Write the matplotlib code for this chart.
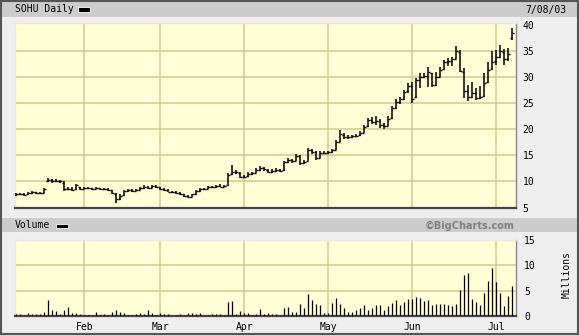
import matplotlib
matplotlib.use("Agg")
import matplotlib.pyplot as plt
from matplotlib.patches import Rectangle
import numpy as np

# ---------------- data (trading-day index 0 = Jan 8 2003 ... 124 = Jul 8 2003)
open_ = [7.4, 7.5, 7.6, 7.5, 7.7, 7.9, 7.7, 7.8, 10.0, 10.2, 10.0, 10.1, 9.8, 8.6, 8.5, 8.5, 8.9,
         8.6, 8.8, 8.7, 8.6, 8.7, 8.5, 8.6, 8.3, 7.6, 6.6, 7.4, 8.2, 8.3, 8.2, 8.4, 8.7, 9.0, 8.8, 9.1,
         8.9, 8.6, 8.3, 8.0, 7.9, 7.8, 7.5, 7.2, 7.1, 7.5, 8.1, 8.5, 8.6, 8.9, 8.9, 9.1, 9.0, 9.3, 11.4, 11.9, 11.6,
         10.9, 11.0, 11.5, 11.7, 12.2, 12.6, 12.2, 11.9, 12.0, 12.2, 12.2, 13.8, 14.1, 14.0, 14.8, 13.5, 14.0, 16.0, 15.6, 14.6, 15.4,
         15.5, 15.6, 16.1, 17.6, 19.0, 18.5, 18.6, 18.8, 18.9, 19.4, 20.6, 21.8, 21.5, 21.6, 20.8, 20.7, 22.1, 24.2, 25.2, 25.9, 27.3,
         28.4, 26.2, 29.5, 30.0, 30.3, 30.8, 28.6, 30.0, 31.6, 33.0, 33.2, 33.6, 34.8, 31.0, 27.3, 26.2, 27.0, 26.0, 26.5, 29.2, 31.6,
         33.2, 34.0, 34.9, 33.5, 37.5]
high = [7.7, 7.7, 7.7, 7.9, 8.1, 8.0, 8.0, 8.8, 10.6, 10.4, 10.4, 10.3, 10.0, 9.0, 8.9, 9.6, 9.0,
        8.9, 8.9, 8.8, 8.9, 8.8, 8.8, 8.7, 8.4, 7.7, 7.5, 8.4, 8.5, 8.5, 8.6, 8.9, 9.3, 9.2, 9.4, 9.3,
        9.0, 8.7, 8.5, 8.2, 8.1, 7.9, 7.6, 7.4, 7.6, 8.3, 8.7, 8.8, 9.1, 9.2, 9.4, 9.5, 9.4, 11.6, 13.1, 12.2, 11.8,
        11.3, 11.8, 11.9, 12.5, 12.9, 12.8, 12.4, 12.3, 12.5, 12.4, 14.0, 14.5, 14.4, 15.2, 15.0, 14.1, 16.5, 16.3, 15.8, 15.8, 15.8,
        15.9, 16.3, 17.9, 19.8, 19.3, 18.9, 19.0, 19.1, 19.7, 20.9, 22.1, 22.4, 22.6, 22.0, 21.2, 22.5, 24.5, 25.8, 26.2, 27.6, 28.9,
        29.1, 29.8, 30.8, 30.8, 32.0, 30.9, 31.0, 32.0, 33.4, 33.7, 34.0, 36.1, 35.2, 31.8, 28.5, 29.2, 28.0, 28.3, 30.8, 32.9, 35.0,
        35.2, 36.2, 35.4, 35.7, 39.4]
low = [7.3, 7.4, 7.3, 7.4, 7.6, 7.6, 7.6, 7.7, 9.9, 9.8, 9.9, 9.7, 8.2, 8.3, 8.2, 8.4, 8.4,
       8.5, 8.5, 8.4, 8.5, 8.3, 8.4, 8.2, 7.5, 5.9, 6.5, 7.3, 8.0, 8.0, 8.1, 8.3, 8.6, 8.6, 8.7, 8.8,
       8.4, 8.1, 7.9, 7.8, 7.6, 7.4, 7.1, 6.9, 7.0, 7.4, 8.0, 8.3, 8.5, 8.7, 8.8, 8.9, 8.9, 9.2, 11.3, 11.5, 10.6,
       10.6, 10.9, 11.3, 11.6, 12.1, 12.0, 11.7, 11.7, 11.9, 11.9, 12.1, 13.6, 13.6, 13.9, 13.2, 13.3, 13.9, 15.3, 14.1, 14.5, 15.2,
       15.2, 15.5, 16.0, 17.5, 18.2, 18.2, 18.4, 18.5, 18.8, 19.3, 20.5, 21.1, 20.9, 20.3, 20.1, 20.6, 22.0, 24.0, 24.8, 25.7, 26.9,
       25.0, 26.0, 28.0, 29.8, 28.2, 28.1, 28.4, 30.0, 31.4, 32.1, 32.2, 33.5, 31.0, 26.0, 25.5, 26.0, 25.6, 25.9, 26.3, 29.0, 31.4,
       32.4, 33.8, 32.4, 33.2, 37.1]
close = [7.5, 7.6, 7.4, 7.7, 7.9, 7.7, 7.8, 8.6, 10.2, 10.0, 10.1, 10.0, 8.5, 8.5, 8.4, 9.3, 8.6,
         8.8, 8.7, 8.6, 8.7, 8.5, 8.6, 8.4, 7.7, 6.6, 7.3, 8.2, 8.3, 8.2, 8.4, 8.7, 9.0, 8.8, 9.2, 8.9,
         8.6, 8.3, 8.0, 7.9, 7.8, 7.5, 7.2, 7.1, 7.5, 8.1, 8.5, 8.6, 8.9, 8.9, 9.1, 9.0, 9.2, 11.2, 11.9, 11.8, 10.9,
         10.9, 11.5, 11.6, 12.2, 12.6, 12.3, 11.9, 12.0, 12.2, 12.1, 13.8, 14.1, 13.9, 14.9, 13.5, 13.8, 16.0, 15.7, 14.5, 15.4, 15.5,
         15.6, 16.0, 17.6, 19.2, 18.5, 18.6, 18.8, 18.8, 19.3, 20.5, 21.8, 21.5, 21.6, 20.8, 20.6, 22.0, 24.1, 25.2, 25.8, 27.2, 28.3,
         25.9, 29.5, 30.0, 30.3, 31.0, 28.5, 30.0, 31.5, 33.0, 33.2, 33.5, 35.1, 31.3, 27.4, 26.2, 27.0, 26.0, 26.3, 29.0, 31.5, 33.0,
         34.0, 35.0, 33.5, 34.5, 38.5]
volume_m = [0.46, 0.46, 0.26, 0.65, 0.39, 0.46, 0.46, 0.85, 3.2, 1.24, 1.04, 0.46, 1.24, 1.83, 0.65, 0.65, 0.46,
            0.26, 0.26, 0.26, 0.85, 0.26, 0.46, 0.26, 0.85, 1.24, 0.85, 0.65, 0.26, 0.26, 0.46, 0.65, 0.46, 1.24, 0.65, 0.26,
            0.65, 0.46, 0.46, 0.08, 0.26, 0.46, 0.26, 0.65, 0.65, 0.46, 0.65, 0.26, 0.26, 0.46, 0.46, 0.46, 0.26, 2.8, 3.0, 0.46, 1.04,
            0.65, 0.65, 0.26, 0.46, 1.44, 0.46, 0.65, 0.46, 0.46, 0.26, 1.63, 1.83, 0.85, 0.85, 2.41, 1.63, 4.37, 3.2, 2.41, 2.22, 0.65,
            0.65, 2.61, 3.59, 2.41, 1.63, 0.85, 0.85, 1.24, 1.63, 2.22, 1.24, 1.63, 2.22, 2.22, 1.24, 2.02, 2.61, 3.2, 2.22, 2.8, 3.39,
            3.39, 3.78, 3.59, 3.0, 3.2, 2.22, 2.41, 2.41, 2.41, 2.22, 2.02, 2.41, 5.15, 8.09, 8.42, 3.39, 2.8, 2.22, 4.57, 6.91, 9.46,
            6.72, 4.57, 2.02, 3.98, 5.94]
month_labels = ["Feb", "Mar", "Apr", "May", "Jun", "Jul"]
month_first_idx = [17, 36, 57, 78, 99, 120]
price_ticks = [5, 10, 15, 20, 25, 30, 35, 40]
vol_ticks = [0, 5, 10, 15]

# ---------------- figure
W, H = 579, 335
fig = plt.figure(figsize=(W / 100, H / 100), dpi=100)
fig.patch.set_facecolor("#EEEEEE")
MONO = "DejaVu Sans Mono"

def fx(px):
    return px / W

def fy(py):
    return 1 - py / H

# header & volume bands
fig.add_artist(Rectangle((0, fy(17)), 1, (17 - 2) / H, transform=fig.transFigure,
                         facecolor="#CCCCCC", edgecolor="none", zorder=0))
fig.add_artist(Rectangle((0, fy(232)), 1, (232 - 218) / H, transform=fig.transFigure,
                         facecolor="#CCCCCC", edgecolor="none", zorder=0))
# outer border
fig.add_artist(Rectangle((0.001, 0.002), 0.997, 0.996, transform=fig.transFigure,
                         facecolor="none", edgecolor="#555555", linewidth=1.5, zorder=5))

fig.text(fx(15), fy(9.5), "SOHU Daily", family=MONO, fontsize=7, va="center", ha="left", color="black")
fig.add_artist(Rectangle((fx(78), fy(11.5)), 12 / W, 4 / H, transform=fig.transFigure,
                         facecolor="black", edgecolor="white", linewidth=0.6))
fig.text(fx(566), fy(9.5), "7/08/03", family=MONO, fontsize=7, va="center", ha="right", color="black")
fig.text(fx(15), fy(225.5), "Volume", family=MONO, fontsize=7, va="center", ha="left", color="black")
fig.add_artist(Rectangle((fx(56), fy(227.5)), 12 / W, 4 / H, transform=fig.transFigure,
                         facecolor="black", edgecolor="white", linewidth=0.6))
fig.text(fx(515), fy(225.5), "\u00a9BigCharts.com", family="DejaVu Sans", fontweight="bold",
         fontsize=7, va="center", ha="right", color="#808080")
fig.text(fx(567), fy(275), "Millions", family=MONO, fontsize=7, va="center", ha="center",
         rotation=90, color="black")

BG = "#FFFFD8"
GRID = "#CCCC8F"
x = np.arange(len(close))
xlim = (-0.33, 124.85)

def style(ax):
    ax.set_facecolor(BG)
    ax.set_xlim(*xlim)
    ax.spines["top"].set_color("#E6E6E6")
    ax.spines["left"].set_color("#E6E6E6")
    ax.spines["right"].set_color("#888888")
    ax.spines["bottom"].set_color("#444444")
    ax.spines["bottom"].set_linewidth(1.6)
    for s in ("top", "left", "right"):
        ax.spines[s].set_linewidth(1.0)
    ax.tick_params(axis="both", length=0, labelsize=7, colors="black")
    ax.yaxis.tick_right()
    for xi in month_first_idx:
        ax.axvline(xi - 0.2, color=GRID, linewidth=1.1, zorder=1)

# price panel
axp = fig.add_axes([fx(15), fy(207.5), (515.7 - 15) / W, (207.5 - 22.7) / H])
style(axp)
axp.set_ylim(5, 40.5)
for yv in price_ticks[1:-1]:
    axp.axhline(yv, color=GRID, linewidth=1.1, zorder=1)
axp.vlines(x, low, high, color="black", linewidth=1.1, zorder=3)
axp.hlines(open_, x - 0.5, x, color="black", linewidth=1.0, zorder=3)
axp.hlines(close, x, x + 0.5, color="black", linewidth=1.0, zorder=3)
axp.set_xticks([])
axp.set_yticks(price_ticks)
axp.set_yticklabels([str(t) for t in price_ticks], family=MONO)
axp.tick_params(axis="y", pad=5)

# volume panel
axv = fig.add_axes([fx(15), fy(316.3), (515.7 - 15) / W, (316.3 - 239.5) / H])
style(axv)
axv.set_ylim(0, 15.05)
for yv in vol_ticks[1:-1]:
    axv.axhline(yv, color=GRID, linewidth=1.1, zorder=1)
axv.vlines(x, 0, volume_m, color="black", linewidth=0.9, zorder=3)
axv.set_xticks(month_first_idx)
axv.set_xticklabels(month_labels, family=MONO)
axv.tick_params(axis="x", pad=4)
axv.set_yticks(vol_ticks)
axv.set_yticklabels([str(t) for t in vol_ticks], family=MONO)
axv.tick_params(axis="y", pad=6)

fig.savefig("out.png", dpi=100, facecolor=fig.get_facecolor())
